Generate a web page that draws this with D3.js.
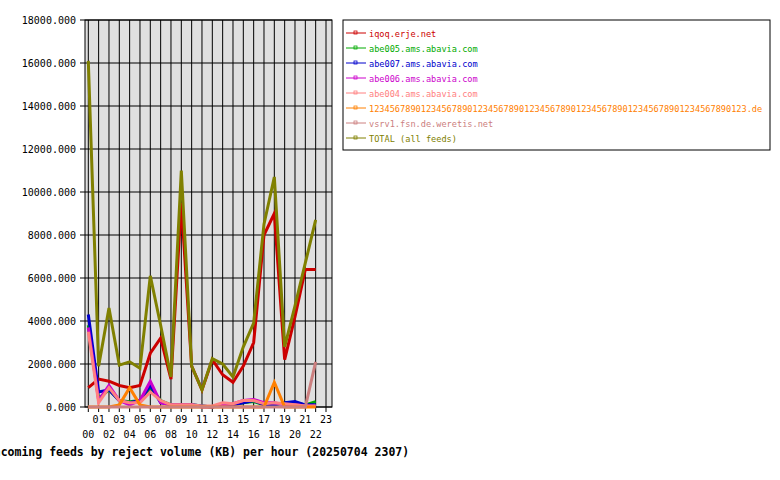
<!DOCTYPE html><html><head><meta charset="utf-8">
<script src="https://cdn.jsdelivr.net/npm/d3@7"></script>
<style>body{margin:0;background:#fff}svg{display:block}</style></head><body>
<svg id="c" width="780" height="480"></svg>
<script>
const hours=d3.range(24).map(h=>String(h).padStart(2,"0"));
const yTicks=[0,2000,4000,6000,8000,10000,12000,14000,16000,18000];
const names=["iqoq.erje.net","abe005.ams.abavia.com","abe007.ams.abavia.com","abe006.ams.abavia.com","abe004.ams.abavia.com","1234567890123456789012345678901234567890123456789012345678901234567890123.de","vsrv1.fsn.de.weretis.net","TOTAL (all feeds)"];
const colors=["#cc0000","#00aa00","#0000cc","#cc00cc","#ff8080","#ff8000","#cc8080","#808000"];
const iqoq=[900,1300,1200,1000,900,1000,2500,3200,1300,9500,1900,800,2200,1500,1150,1900,3000,8000,9000,2200,4200,6400,6400];
const abe005=[3800,400,800,300,250,300,900,300,100,100,100,50,0,100,100,200,250,100,100,200,200,100,250];
const abe007=[4300,700,800,300,200,300,1000,200,100,100,100,50,0,100,100,200,300,100,100,200,250,100,100];
const abe006=[3700,300,1000,300,100,300,1200,200,100,100,100,0,0,100,150,300,350,200,200,100,100,50,50];
const abe004=[3500,200,900,300,200,200,700,300,100,100,100,50,50,200,150,300,300,150,200,150,100,50,50];
const longde=[0,0,0,100,900,100,0,0,0,0,0,0,0,0,0,0,0,0,1150,0,0,0,0];
const vsrv1=[0,0,0,0,0,0,0,0,0,0,0,0,0,0,0,0,0,0,0,0,0,0,2100];
const total=[16100,1900,4600,1950,2100,1800,6100,3800,1400,11000,1900,800,2250,2000,1400,2800,3900,8500,10700,2800,4700,6700,8700];
const series=[iqoq,abe005,abe007,abe006,abe004,longde,vsrv1,total];
const svg=d3.select("#c");
const L=85,R=332,T=20,B=407;
const x=d3.scaleLinear().domain([0,23]).range([88.3,326]);
const y=d3.scaleLinear().domain([0,18000]).range([B,T]);
const font="DejaVu Sans Mono, monospace";
svg.append("rect").attr("x",L).attr("y",T).attr("width",R-L).attr("height",B-T).attr("fill","#e0e0e0");
svg.append("g").selectAll("line").data(d3.range(24)).join("line").attr("x1",d=>x(d)).attr("x2",d=>x(d)).attr("y1",T).attr("y2",B+5).attr("stroke","#000");
svg.append("g").selectAll("line").data(yTicks).join("line").attr("x1",L-5).attr("x2",R).attr("y1",d=>y(d)).attr("y2",d=>y(d)).attr("stroke","#000");
svg.append("rect").attr("x",L).attr("y",T).attr("width",R-L).attr("height",B-T).attr("fill","none").attr("stroke","#000");
svg.append("g").selectAll("text").data(yTicks).join("text").attr("x",L-9).attr("y",d=>y(d)+4).attr("text-anchor","end").attr("font-family",font).attr("font-size",10).text(d=>d.toFixed(3));
svg.append("g").selectAll("text").data(hours).join("text").attr("x",(d,i)=>x(i)).attr("y",(d,i)=>i%2?423:438).attr("text-anchor","middle").attr("font-family",font).attr("font-size",10).text(d=>d);
const line=d3.line().x((d,i)=>x(i)).y(d=>y(d));
svg.append("g").selectAll("path").data(series).join("path").attr("d",line).attr("fill","none").attr("stroke",(d,i)=>colors[i]).attr("stroke-width",3);
svg.append("text").attr("x",198).attr("y",456).attr("text-anchor","middle").attr("font-family",font).attr("font-weight","bold").attr("font-size",11.5).text("Incoming feeds by reject volume (KB) per hour (20250704 2307)");
svg.append("rect").attr("x",343).attr("y",20).attr("width",427).attr("height",130).attr("fill","#fff").attr("stroke","#000");
const lg=svg.append("g").selectAll("g").data(names).join("g").attr("transform",(d,i)=>`translate(346,${33+i*15})`);
lg.append("line").attr("x1",0).attr("x2",20).attr("y1",0).attr("y2",0).attr("stroke",(d,i)=>colors[i]);
lg.append("rect").attr("x",8).attr("y",-2).attr("width",3).attr("height",3).attr("fill","none").attr("stroke",(d,i)=>colors[i]).attr("stroke-width",0.8);
lg.append("text").attr("x",23).attr("y",4).attr("font-family",font).attr("font-size",8.6).attr("fill",(d,i)=>colors[i]).text(d=>d);
</script></body></html>
